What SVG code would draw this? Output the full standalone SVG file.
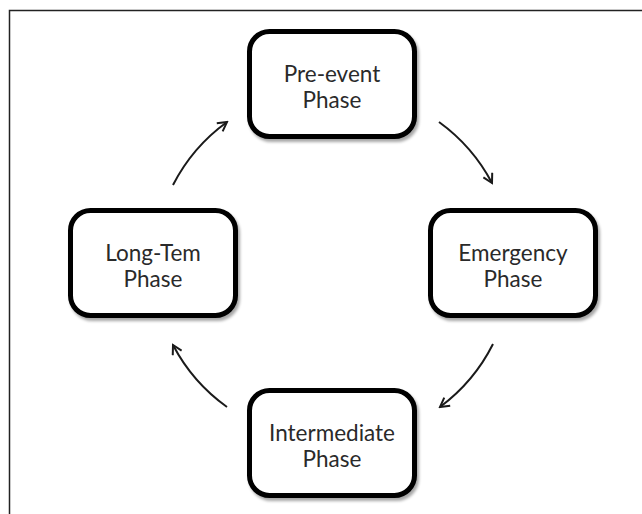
<svg xmlns="http://www.w3.org/2000/svg" width="642" height="514" viewBox="0 0 642 514">
  <style>
    .box { fill: #ffffff; stroke: #000000; stroke-width: 5; filter: url(#shadow); }
    .label { font-family: "Lato", "Open Sans", "Liberation Sans", sans-serif; font-size: 22.5px; fill: #2a2a2a; text-anchor: middle; }
    .arc { fill: none; stroke: #1a1a1a; stroke-width: 2; marker-end: url(#head); }
  </style>
  <defs>
    <filter id="shadow" x="-10%" y="-10%" width="130%" height="130%">
      <feGaussianBlur in="SourceAlpha" stdDeviation="1.5"/>
      <feOffset dx="2" dy="3" result="b"/>
      <feComponentTransfer><feFuncA type="linear" slope="0.35"/></feComponentTransfer>
      <feMerge><feMergeNode/><feMergeNode in="SourceGraphic"/></feMerge>
    </filter>
    <marker id="head" viewBox="0 0 12 12" refX="10" refY="6" markerWidth="12" markerHeight="12" markerUnits="userSpaceOnUse" orient="auto">
      <path d="M1,1 L10,6 L1,11" fill="none" stroke="#1a1a1a" stroke-width="2"/>
    </marker>
  </defs>

  <rect width="642" height="514" fill="#ffffff"/>
  <!-- outer frame -->
  <path d="M9.5,514 V10.5 H642" fill="none" stroke="#222222" stroke-width="1.5"/>

  <g id="connectors">
    <path class="arc" d="M439,122 A178,178 0 0 1 492,183"/>
    <path class="arc" d="M493,344 A178,178 0 0 1 440,407"/>
    <path class="arc" d="M227,407 A178,178 0 0 1 173,345"/>
    <path class="arc" d="M173,185 A178,178 0 0 1 227,122"/>
  </g>

  <g id="pre-event">
    <rect class="box" x="249.5" y="31.5" width="165" height="105" rx="20"/>
    <text class="label" x="332" y="82">Pre-event</text>
    <text class="label" x="332" y="108">Phase</text>
  </g>
  <g id="emergency">
    <rect class="box" x="430.5" y="210.5" width="165" height="105" rx="20"/>
    <text class="label" x="513" y="261">Emergency</text>
    <text class="label" x="513" y="287">Phase</text>
  </g>
  <g id="intermediate">
    <rect class="box" x="249.5" y="390.5" width="165" height="105" rx="20"/>
    <text class="label" x="332" y="441">Intermediate</text>
    <text class="label" x="332" y="467">Phase</text>
  </g>
  <g id="long-term">
    <rect class="box" x="70.5" y="210.5" width="165" height="105" rx="20"/>
    <text class="label" x="153" y="261">Long-Tem</text>
    <text class="label" x="153" y="287">Phase</text>
  </g>
</svg>
